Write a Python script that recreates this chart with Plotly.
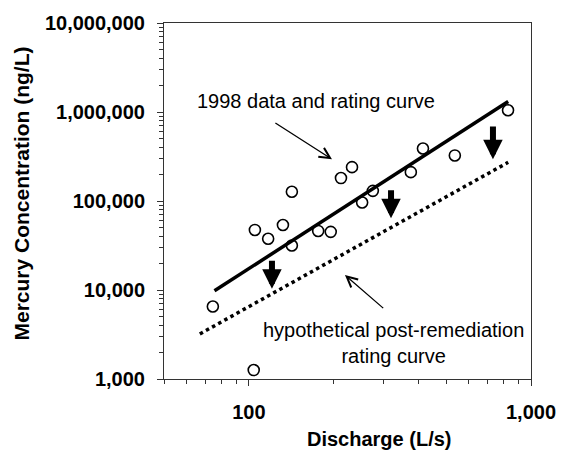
import numpy as np
import plotly.graph_objects as go

# ---- data ----
discharge = [74.5, 104, 105, 117, 132, 142, 142, 176, 195, 212, 232, 252, 275, 375, 414, 537, 829]
mercury = [6530, 1260, 47300, 37700, 53700, 127000, 31600, 46100, 45000, 181000, 240000,
           96200, 130000, 211000, 389000, 325000, 1045000]

rating_q = [75.5, 830]
rating_hg = [9800, 1310000]

post_q = [67, 830]
post_hg = [3210, 272000]

arrow_q = [120.7, 319, 733]
arrow_top = [22100, 137000, 714000]
arrow_bottom = [10300, 64100, 294000]

# thin pointer arrows: tail -> tip
pointer_tail_q = [122.6, 303]
pointer_tail_hg = [771000, 6050]
pointer_tip_q = [197, 219]
pointer_tip_hg = [294000, 14700]

x_major = [100, 1000]
x_major_text = ["100", "1,000"]
x_minor = [50, 60, 70, 80, 90, 200, 300, 400, 500, 600, 700, 800, 900]
y_major = [1000, 10000, 100000, 1000000, 10000000]
y_major_text = ["1,000", "10,000", "100,000", "1,000,000", "10,000,000"]
y_minor = [m * d for d in [1000, 10000, 100000, 1000000] for m in range(2, 10)]

fig = go.Figure()
fig.add_trace(go.Scatter(x=rating_q, y=rating_hg, mode="lines",
                         line=dict(color="black", width=3.5), showlegend=False))
fig.add_trace(go.Scatter(x=post_q, y=post_hg, mode="lines",
                         line=dict(color="black", width=3.5, dash="dot"), showlegend=False))
fig.add_trace(go.Scatter(x=discharge, y=mercury, mode="markers",
                         marker=dict(symbol="circle-open", size=11, color="black",
                                     line=dict(width=1.6, color="black")),
                         showlegend=False))

annotations = []
for q, top, bot in zip(arrow_q, arrow_top, arrow_bottom):
    annotations.append(dict(x=np.log10(q), y=np.log10(bot), ax=np.log10(q), ay=np.log10(top),
                            xref="x", yref="y", axref="x", ayref="y", text="",
                            showarrow=True, arrowhead=2, arrowwidth=6, arrowsize=0.65,
                            arrowcolor="black"))
for tq, th, pq, ph in zip(pointer_tail_q, pointer_tail_hg, pointer_tip_q, pointer_tip_hg):
    annotations.append(dict(x=np.log10(pq), y=np.log10(ph), ax=np.log10(tq), ay=np.log10(th),
                            xref="x", yref="y", axref="x", ayref="y", text="",
                            showarrow=True, arrowhead=5, arrowwidth=1.3, arrowsize=1.6,
                            arrowcolor="black"))

FAM = "Liberation Sans, Arial"
txt_font = dict(family=FAM, size=20, color="black")
bold_font = dict(family=FAM, size=20, color="black", weight="bold")
common = dict(xref="paper", yref="paper", showarrow=False, xanchor="center", yanchor="middle")
annotations.append(dict(x=0.414, y=0.78, text="1998 data and rating curve",
                        font=txt_font, **common))
annotations.append(dict(x=0.624, y=0.102, text="hypothetical post-remediation<br>rating curve",
                        font=txt_font, align="center", **common))
annotations.append(dict(x=0.586, y=-0.168, text="<b>Discharge (L/s)</b>",
                        font=bold_font, **common))
annotations.append(dict(x=-0.387, y=0.521, textangle=-90,
                        text="<b>Mercury Concentration (ng/L)</b>",
                        font=dict(family=FAM, size=21, color="black"), **common))

fig.update_layout(
    width=568, height=452,
    margin=dict(l=164, r=37, t=16, b=73),
    plot_bgcolor="white", paper_bgcolor="white",
    annotations=annotations,
    font=dict(family=FAM, color="black"),
)
tick_font = dict(family=FAM, size=20, color="black", weight="bold")
fig.update_xaxes(type="log", range=[np.log10(50), np.log10(1000)],
                 tickvals=x_major, ticktext=x_major_text,
                 ticks="outside", ticklen=6, tickcolor="#333", tickwidth=1,
                 showline=True, linecolor="#333", linewidth=1, mirror=True,
                 showgrid=False, zeroline=False, ticklabelstandoff=9,
                 tickfont=tick_font,
                 minor=dict(tickvals=x_minor, ticks="outside", ticklen=4, tickcolor="#333",
                            showgrid=False))
fig.update_yaxes(type="log", range=[3, 7],
                 tickvals=y_major, ticktext=y_major_text,
                 ticks="outside", ticklen=6, tickcolor="#333", tickwidth=1,
                 showline=True, linecolor="#333", linewidth=1, mirror=True,
                 showgrid=False, zeroline=False, ticklabelstandoff=8,
                 tickfont=tick_font,
                 minor=dict(tickvals=y_minor, ticks="outside", ticklen=4, tickcolor="#333",
                            showgrid=False))

fig.write_html("out.html")
